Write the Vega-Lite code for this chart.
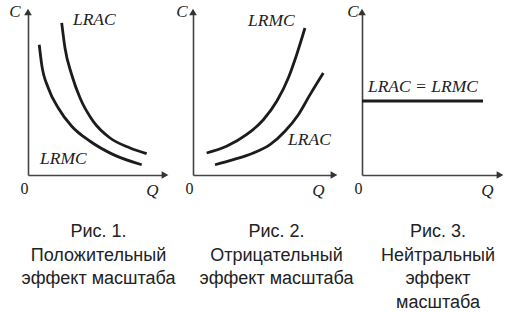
{
  "$schema": "https://vega.github.io/schema/vega-lite/v6.json",
  "background": "white",
  "padding": {"left": 8, "top": 2, "right": 0, "bottom": 0},
  "bounds": "flush",
  "spacing": 28,
  "config": {
    "view": {"stroke": null},
    "axis": {
      "grid": false, "ticks": false, "tickSize": 0,
      "domainColor": "#444", "domainWidth": 1.6,
      "titleFont": "Liberation Serif", "titleFontStyle": "italic", "titleFontWeight": "normal",
      "titleFontSize": 17, "titleColor": "#222",
      "labelFont": "Liberation Serif", "labelFontSize": 16, "labelColor": "#222"
    },
    "title": {
      "font": "Liberation Sans", "fontSize": 18, "fontWeight": "normal", "color": "#222",
      "lineHeight": 23.5, "orient": "bottom", "anchor": "middle", "frame": "group", "offset": 25
    }
  },
  "hconcat": [
    {
      "width": 137, "height": 163,
      "title": {"text": ["Рис. 1.", "Положительный", "эффект масштаба"], "dx": 2},
      "encoding": {
        "x": {"field": "q", "type": "quantitative", "scale": {"domain": [0, 10]},
          "axis": {"values": [0], "title": "Q", "titleAngle": 0, "titleX": 130, "titleY": 20, "titleAlign": "right", "titleBaseline": "alphabetic",
            "labelAlign": "right", "labelBaseline": "alphabetic", "labelDx": -9, "labelPadding": 18, "labelFlush": false, "labelOverlap": false, "labelBound": false}},
        "y": {"field": "c", "type": "quantitative", "scale": {"domain": [0, 10]},
          "axis": {"labels": false, "title": "C", "titleAngle": 0, "titleX": -8, "titleY": 4, "titleAlign": "right", "titleBaseline": "alphabetic"}}
      },
      "layer": [
        {
          "data": {"values": [
            {"curve": "LRAC", "q": 2.46, "c": 9.33}, {"curve": "LRAC", "q": 2.70, "c": 7.79}, {"curve": "LRAC", "q": 3.19, "c": 6.15}, {"curve": "LRAC", "q": 3.80, "c": 4.72},
            {"curve": "LRAC", "q": 4.76, "c": 3.29}, {"curve": "LRAC", "q": 5.99, "c": 2.27}, {"curve": "LRAC", "q": 7.45, "c": 1.66}, {"curve": "LRAC", "q": 8.66, "c": 1.31},
            {"curve": "LRMC", "q": 0.82, "c": 7.99}, {"curve": "LRMC", "q": 1.00, "c": 6.77}, {"curve": "LRMC", "q": 1.48, "c": 5.34}, {"curve": "LRMC", "q": 2.21, "c": 4.11},
            {"curve": "LRMC", "q": 3.19, "c": 2.99}, {"curve": "LRMC", "q": 4.53, "c": 2.07}, {"curve": "LRMC", "q": 6.23, "c": 1.25}, {"curve": "LRMC", "q": 8.30, "c": 0.63}
          ]},
          "mark": {"type": "line", "interpolate": "monotone", "color": "#1c1c1c", "strokeWidth": 2.8},
          "encoding": {"detail": {"field": "curve", "type": "nominal"}}
        },
        {
          "data": {"values": [{"q": 10, "c": 0}]},
          "mark": {"type": "point", "shape": "triangle-right", "filled": true, "opacity": 1, "color": "#333", "size": 60},
          "encoding": {}
        },
        {
          "data": {"values": [{"q": 0, "c": 10}]},
          "mark": {"type": "point", "shape": "triangle-up", "filled": true, "opacity": 1, "color": "#333", "size": 60},
          "encoding": {}
        },
        {
          "data": {"values": [{"label": "LRAC", "q": 3.28, "c": 9.20}, {"label": "LRMC", "q": 0.88, "c": 0.67}]},
          "mark": {"type": "text", "align": "left", "baseline": "alphabetic", "font": "Liberation Serif", "fontStyle": "italic", "fontSize": 17.5, "color": "#222"},
          "encoding": {"text": {"field": "label", "type": "nominal"}}
        }
      ]
    },
    {
      "width": 141, "height": 163,
      "title": {"text": ["Рис. 2.", "Отрицательный", "эффект масштаба"], "dx": 13},
      "encoding": {
        "x": {"field": "q", "type": "quantitative", "scale": {"domain": [0, 10]},
          "axis": {"values": [0], "title": "Q", "titleAngle": 0, "titleX": 131, "titleY": 20, "titleAlign": "right", "titleBaseline": "alphabetic",
            "labelAlign": "right", "labelBaseline": "alphabetic", "labelDx": -8, "labelPadding": 18, "labelFlush": false, "labelOverlap": false, "labelBound": false}},
        "y": {"field": "c", "type": "quantitative", "scale": {"domain": [0, 10]},
          "axis": {"labels": false, "title": "C", "titleAngle": 0, "titleX": -6, "titleY": 4, "titleAlign": "right", "titleBaseline": "alphabetic"}}
      },
      "layer": [
        {
          "data": {"values": [
            {"curve": "LRMC", "q": 0.97, "c": 1.35}, {"curve": "LRMC", "q": 2.38, "c": 1.76}, {"curve": "LRMC", "q": 3.79, "c": 2.47}, {"curve": "LRMC", "q": 4.99, "c": 3.39},
            {"curve": "LRMC", "q": 5.94, "c": 4.52}, {"curve": "LRMC", "q": 6.76, "c": 5.95}, {"curve": "LRMC", "q": 7.35, "c": 7.38}, {"curve": "LRMC", "q": 7.94, "c": 9.02},
            {"curve": "LRAC", "q": 1.56, "c": 0.63}, {"curve": "LRAC", "q": 2.86, "c": 0.94}, {"curve": "LRAC", "q": 4.28, "c": 1.35}, {"curve": "LRAC", "q": 5.46, "c": 1.86},
            {"curve": "LRAC", "q": 6.52, "c": 2.68}, {"curve": "LRAC", "q": 7.47, "c": 3.70}, {"curve": "LRAC", "q": 8.30, "c": 4.93}, {"curve": "LRAC", "q": 9.24, "c": 6.26}
          ]},
          "mark": {"type": "line", "interpolate": "monotone", "color": "#1c1c1c", "strokeWidth": 2.8},
          "encoding": {"detail": {"field": "curve", "type": "nominal"}}
        },
        {
          "data": {"values": [{"q": 10, "c": 0}]},
          "mark": {"type": "point", "shape": "triangle-right", "filled": true, "opacity": 1, "color": "#333", "size": 60},
          "encoding": {}
        },
        {
          "data": {"values": [{"q": 0, "c": 10}]},
          "mark": {"type": "point", "shape": "triangle-up", "filled": true, "opacity": 1, "color": "#333", "size": 60},
          "encoding": {}
        },
        {
          "data": {"values": [{"label": "LRMC", "q": 3.90, "c": 9.14}, {"label": "LRAC", "q": 6.74, "c": 1.84}]},
          "mark": {"type": "text", "align": "left", "baseline": "alphabetic", "font": "Liberation Serif", "fontStyle": "italic", "fontSize": 17.5, "color": "#222"},
          "encoding": {"text": {"field": "label", "type": "nominal"}}
        }
      ]
    },
    {
      "width": 138, "height": 163,
      "title": {"text": ["Рис. 3.", "Нейтральный", "эффект", "масштаба"], "dx": 7},
      "encoding": {
        "x": {"field": "q", "type": "quantitative", "scale": {"domain": [0, 10]},
          "axis": {"values": [0], "title": "Q", "titleAngle": 0, "titleX": 131, "titleY": 20, "titleAlign": "right", "titleBaseline": "alphabetic",
            "labelAlign": "right", "labelBaseline": "alphabetic", "labelDx": -6, "labelPadding": 18, "labelFlush": false, "labelOverlap": false, "labelBound": false}},
        "y": {"field": "c", "type": "quantitative", "scale": {"domain": [0, 10]},
          "axis": {"labels": false, "title": "C", "titleAngle": 0, "titleX": -4, "titleY": 4, "titleAlign": "right", "titleBaseline": "alphabetic"}}
      },
      "layer": [
        {
          "data": {"values": [{"curve": "LRAC = LRMC", "q": 0, "c": 4.54}, {"curve": "LRAC = LRMC", "q": 8.77, "c": 4.54}]},
          "mark": {"type": "line", "color": "#1c1c1c", "strokeWidth": 2.8},
          "encoding": {"detail": {"field": "curve", "type": "nominal"}}
        },
        {
          "data": {"values": [{"q": 10, "c": 0}]},
          "mark": {"type": "point", "shape": "triangle-right", "filled": true, "opacity": 1, "color": "#333", "size": 60},
          "encoding": {}
        },
        {
          "data": {"values": [{"q": 0, "c": 10}]},
          "mark": {"type": "point", "shape": "triangle-up", "filled": true, "opacity": 1, "color": "#333", "size": 60},
          "encoding": {}
        },
        {
          "data": {"values": [{"label": "LRAC = LRMC", "q": 0.43, "c": 5.09}]},
          "mark": {"type": "text", "align": "left", "baseline": "alphabetic", "font": "Liberation Serif", "fontStyle": "italic", "fontSize": 17.5, "color": "#222"},
          "encoding": {"text": {"field": "label", "type": "nominal"}}
        }
      ]
    }
  ]
}
